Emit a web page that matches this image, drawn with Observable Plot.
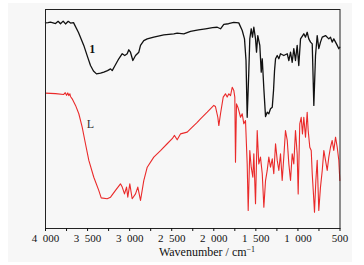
<!DOCTYPE html>
<html><head><meta charset="utf-8">
<script src="https://cdn.jsdelivr.net/npm/d3@7"></script>
<script src="https://cdn.jsdelivr.net/npm/@observablehq/plot@0.6"></script>
<style>
html,body{margin:0;padding:0;background:#fff;}
#wrap{position:relative;width:364px;height:265px;overflow:hidden;}
#bg{position:absolute;left:8px;top:3px;width:344px;height:259px;background:#f7f7f7;}
#chart{position:absolute;left:0;top:0;}
#xlabel{position:absolute;left:142px;width:130px;top:246px;height:12px;line-height:12px;text-align:center;font-family:"Liberation Serif",serif;font-size:12px;color:#111;white-space:nowrap;}
</style></head>
<body>
<div id="wrap"><div id="bg"></div><div id="chart"></div><div id="xlabel">Wavenumber / cm<sup style="font-size:8px;vertical-align:4px;line-height:0">−1</sup></div></div>
<script>
// Compound 1 (black): wavenumber (cm-1) and transmittance (offset, arbitrary units)
const wave1 = [4000,3970,3941,3910,3881,3850,3822,3790,3762,3730,3703,3667,3608,3545,3501,3465,3430,3394,3346,3307,3263,3227,3207,3180,3129,3088,3058,3029,3010,2990,2962,2930,2891,2871,2832,2791,2713,2594,2475,2435,2356,2277,2182,2098,2015,1959,1920,1881,1825,1762,1703,1662,1635,1617,1603,1584,1572,1555,1540,1524,1504,1492,1477,1453,1436,1424,1405,1385,1365,1346,1326,1305,1290,1278,1266,1246,1227,1207,1168,1127,1108,1088,1068,1049,1029,1009,990,969,930,910,890,871,850,830,811,791,771,752,732,711,672,633,613,593,574,553,533,514,502];
const trans1 = [93.9,94.0,94.2,93.9,93.6,94.6,93.5,94.7,93.4,94.6,93.8,94.0,89.5,83.6,78.5,74.4,71.9,70.6,70.9,71.4,72.1,72.9,72.1,74.0,77.5,79.8,79.0,79.8,81.6,80.5,76.7,79.0,80.5,83.6,85.8,86.6,87.4,88.4,88.9,89.2,88.9,90.0,90.7,91.2,91.7,91.9,91.2,93.2,93.5,94.1,93.9,90.4,86.6,76.7,50.8,71.4,86.6,91.2,87.4,91.9,86.6,80.5,88.1,83.6,71.4,77.5,63.8,51.1,53.1,52.4,54.7,55.4,63.0,72.1,77.5,79.0,77.5,79.8,79.0,79.8,76.7,80.5,75.9,82.1,76.7,83.6,74.4,86.6,88.9,87.4,89.6,86.6,85.1,84.3,56.2,79.0,88.1,82.1,85.1,87.4,88.1,86.6,87.4,85.1,86.6,85.1,83.6,82.1,82.8];
// Ligand L (red)
const waveL = [4000,3881,3783,3765,3750,3735,3723,3710,3703,3683,3643,3604,3564,3525,3485,3426,3367,3338,3267,3227,3168,3109,3088,3061,3037,3022,2998,2970,2930,2903,2871,2832,2791,2713,2633,2554,2494,2467,2435,2396,2316,2277,2197,2158,2078,2000,1980,1952,1940,1920,1888,1861,1841,1821,1801,1781,1762,1750,1742,1730,1714,1703,1682,1662,1643,1623,1603,1591,1572,1555,1536,1524,1504,1484,1465,1445,1424,1405,1385,1365,1346,1326,1305,1287,1266,1246,1227,1207,1187,1168,1148,1127,1108,1088,1068,1049,1029,1009,997,978,961,946,930,910,890,878,859,842,830,818,803,787,771,752,732,711,692,672,652,633,613,593,574,553,533,514,502];
const transL = [61.8,61.6,61.2,62.0,60.8,61.9,60.7,61.5,60.3,59.2,56.2,52.4,46.3,38.7,31.1,23.4,17.4,14.0,13.6,14.3,17.4,20.4,18.9,15.8,18.9,14.3,20.4,13.6,15.8,18.9,12.8,21.9,28.0,32.6,35.6,38.7,41.0,42.5,40.5,43.2,44.0,45.5,48.5,50.1,53.1,56.2,55.7,50.8,47.0,52.4,60.0,61.5,60.0,61.5,60.7,64.5,63.0,60.0,30.3,56.9,55.4,53.9,50.8,52.4,47.8,49.3,29.5,8.2,35.6,28.0,23.4,34.1,11.3,44.7,29.5,32.6,25.0,9.7,21.9,26.5,32.6,28.0,31.8,25.0,38.7,31.1,26.5,34.1,21.9,32.6,44.7,40.2,29.5,21.9,34.1,29.5,44.7,34.1,15.8,47.8,50.8,43.2,50.8,41.7,53.1,44.7,37.1,35.6,25.0,17.4,7.4,21.9,31.1,8.2,18.9,26.5,35.6,31.1,26.5,32.6,37.1,40.2,35.6,41.7,37.1,31.1,21.9];
const xTicks = [4000,3750,3500,3250,3000,2750,2500,2250,2000,1750,1500,1250,1000,750,500];
const labelNames = ["1","L"];
const labelWave = [3445,3465];
const labelTrans = [82,47.8];

const s1 = wave1.map((w,i)=>({w, t:trans1[i]}));
const sL = waveL.map((w,i)=>({w, t:transL[i]}));
const labels = labelNames.map((n,i)=>({n, w:labelWave[i], t:labelTrans[i]}));
const fmt = d => d >= 1000 ? Math.floor(d/1000) + "\u2002" + String(d%1000).padStart(3,"0") : String(d);

const chart = Plot.plot({
  width: 364, height: 265,
  marginLeft: 45, marginRight: 24.5, marginTop: 9, marginBottom: 37,
  style: {background:"transparent", fontFamily:"'Liberation Serif', serif"},
  x: {domain:[4000,500], axis:null},
  y: {domain:[0,100], axis:null},
  marks: [
    Plot.lineY(sL, {x:"w", y:"t", stroke:"#ea2a2a", strokeWidth:1.1}),
    Plot.lineY(s1, {x:"w", y:"t", stroke:"#111", strokeWidth:1.3}),
    Plot.text(labels.filter(d=>d.n==="1"), {x:"w", y:"t", text:"n", fontSize:12, fontWeight:"bold", fill:"#111"}),
    Plot.text(labels.filter(d=>d.n==="L"), {x:"w", y:"t", text:"n", fontSize:12, fill:"#333"}),
    Plot.frame({stroke:"#222", strokeWidth:1}),
    Plot.axisX({ticks:xTicks, tickFormat:d => d%500===0 ? fmt(d) : "", tickSize:3, tickPadding:3, fontSize:11, label:null, color:"#111"})
  ]
});
document.getElementById("chart").appendChild(chart);
</script>
</body></html>
